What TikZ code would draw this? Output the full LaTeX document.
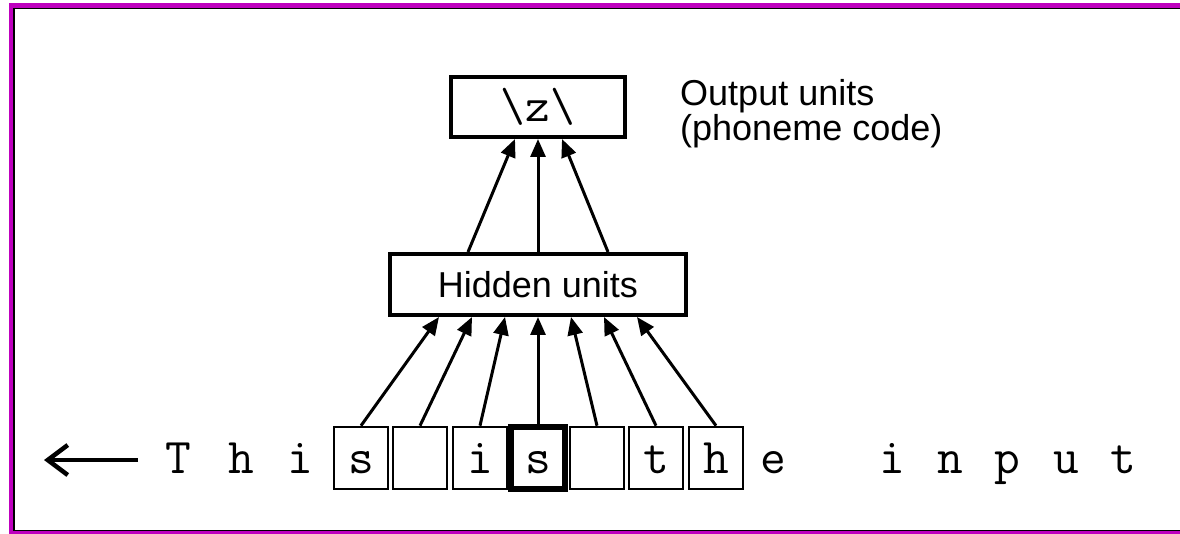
\documentclass[tikz,border=0pt]{standalone}
\usepackage{fontspec}
\setsansfont{Liberation Sans}
\usetikzlibrary{arrows.meta}
\definecolor{framemag}{RGB}{190,0,190}
\begin{document}
\begin{tikzpicture}[x=1pt,y=-1pt,
  ch/.style={inner sep=0pt, minimum width=54pt, text height=46pt, text depth=16pt,
             font=\fontsize{50}{50}\selectfont\ttfamily},
  inbox/.style={ch, draw, line width=2.6pt},
  focusbox/.style={ch, draw, line width=5.5pt},
  unitbox/.style={draw, line width=4pt, inner sep=0pt},
  lab/.style={anchor=base west, inner sep=0pt, font=\fontsize{36}{36}\selectfont\sffamily},
  arr/.style={line width=3pt, -{Triangle[length=18pt,width=15pt]}}]
\useasboundingbox (0,0) rectangle (1180,534);
% frame
\fill[framemag] (9,3) rectangle (1180,8);
\fill[framemag] (9,3) rectangle (13,534);
\fill[framemag] (9,531) rectangle (1180,534);
\draw[line width=1.5pt] (13,8.7) -- (1180,8.7);
\draw[line width=2pt] (14,8) -- (14,531);
\draw[line width=1.5pt] (13,530.3) -- (1180,530.3);
% units
\node[unitbox, minimum width=174pt, minimum height=60pt,
      font=\fontsize{48}{48}\selectfont\ttfamily] (out) at (538,107) {\textbackslash z\textbackslash};
\node[unitbox, minimum width=296pt, minimum height=61pt,
      font=\fontsize{36}{36}\selectfont\sffamily] (hid) at (538,284.5) {Hidden units};
\node[lab] (lab1) at (680,106) {Output units};
\node[lab] (lab2) at (680,141) {(phoneme code)};
% input text
\node[ch] (c0) at (178,458) {T};
\node[ch] (c1) at (241,458) {h};
\node[ch] (c2) at (300,458) {i};
\node[inbox] (b1) at (361,458) {s};
\node[inbox] (b2) at (420,458) {};
\node[inbox] (b3) at (480,458) {i};
\node[focusbox] (b4) at (538,458) {s};
\node[inbox] (b5) at (597,458) {};
\node[inbox] (b6) at (656,458) {t};
\node[inbox] (b7) at (716,458) {h};
\node[ch] (c10) at (773,458) {e};
\node[ch] (c12) at (892,458) {i};
\node[ch] (c13) at (950,458) {n};
\node[ch] (c14) at (1007,458) {p};
\node[ch] (c15) at (1066,458) {u};
\node[ch] (c16) at (1123,458) {t};
% left arrow
\coordinate (atail) at (138,460);
\coordinate (ahead) at (44,460);
\draw[line width=4.5pt, -{Straight Barb[length=20pt,width=30pt]}] (atail) -- (ahead);
% input to hidden
\draw[arr] (b1.north) -- ([xshift=-99pt]hid.south);
\draw[arr] (b2.north) -- ([xshift=-66pt]hid.south);
\draw[arr] (b3.north) -- ([xshift=-33pt]hid.south);
\draw[arr] (b4.north) -- (hid.south);
\draw[arr] (b5.north) -- ([xshift=33pt]hid.south);
\draw[arr] (b6.north) -- ([xshift=66pt]hid.south);
\draw[arr] (b7.north) -- ([xshift=99pt]hid.south);
% hidden to output
\draw[arr] ([xshift=-70pt]hid.north) -- ([xshift=-23pt]out.south);
\draw[arr] (hid.north) -- (out.south);
\draw[arr] ([xshift=70pt]hid.north) -- ([xshift=24pt]out.south);
\end{tikzpicture}
\end{document}
